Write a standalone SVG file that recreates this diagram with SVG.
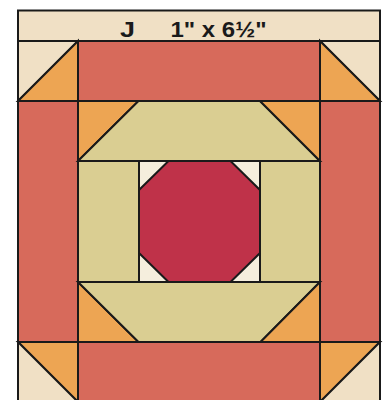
<svg xmlns="http://www.w3.org/2000/svg" width="385" height="400" viewBox="0 0 385 400">
<style>
.s{stroke:#1a1a1a;stroke-width:2;stroke-linejoin:miter}
.red{fill:#D76A5B}.org{fill:#EDA553}.tan{fill:#DACE92}.crm{fill:#F0E0C5}.lc{fill:#F5EEDD}.oct{fill:#BF3249}
.t{font-family:"Liberation Sans",Arial,sans-serif;font-weight:bold;font-size:22px;fill:#1a1a1a}
</style>
<rect width="385" height="400" fill="#ffffff"/>
<g id="label-band">
<rect class="s crm" x="18" y="10.5" width="362" height="30.5"/>
<text class="t" x="120" y="36.5" textLength="15" lengthAdjust="spacingAndGlyphs">J</text>
<text class="t" x="170.5" y="36.5" textLength="96" lengthAdjust="spacingAndGlyphs">1" x 6½"</text>
</g>
<g id="top-row">
<polygon class="s crm" points="18,41 78,41 18,101"/>
<polygon class="s org" points="78,41 78,101 18,101"/>
<rect class="s red" x="78" y="41" width="242" height="60"/>
<polygon class="s crm" points="320,41 380,41 380,101"/>
<polygon class="s org" points="320,41 380,101 320,101"/>
</g>
<g id="side-borders">
<rect class="s red" x="18" y="101" width="60" height="241"/>
<rect class="s red" x="320" y="101" width="60" height="241"/>
</g>
<g id="inner-top">
<polygon class="s org" points="78,101 138.5,101 78,161"/>
<polygon class="s tan" points="138.5,101 260,101 320,161 78,161"/>
<polygon class="s org" points="260,101 320,101 320,161"/>
</g>
<g id="inner-middle">
<rect class="s tan" x="78" y="161" width="61" height="121"/>
<rect class="s tan" x="260" y="161" width="60" height="121"/>
<rect class="s lc" x="139" y="161" width="121" height="121"/>
<polygon class="s oct" points="168.5,161 230.5,161 260,190 260,253 230.5,282 168.5,282 139,253 139,190"/>
</g>
<g id="inner-bottom">
<polygon class="s org" points="78,282 138.5,342 78,342"/>
<polygon class="s tan" points="78,282 320,282 260.5,342 138.5,342"/>
<polygon class="s org" points="320,282 320,342 260.5,342"/>
</g>
<g id="bottom-row">
<polygon class="s org" points="18,342 78,342 78,402"/>
<polygon class="s crm" points="18,342 78,402 18,402"/>
<rect class="s red" x="78" y="342" width="242" height="60"/>
<polygon class="s org" points="320,342 380,342 320,402"/>
<polygon class="s crm" points="380,342 380,402 320,402"/>
</g>
</svg>
